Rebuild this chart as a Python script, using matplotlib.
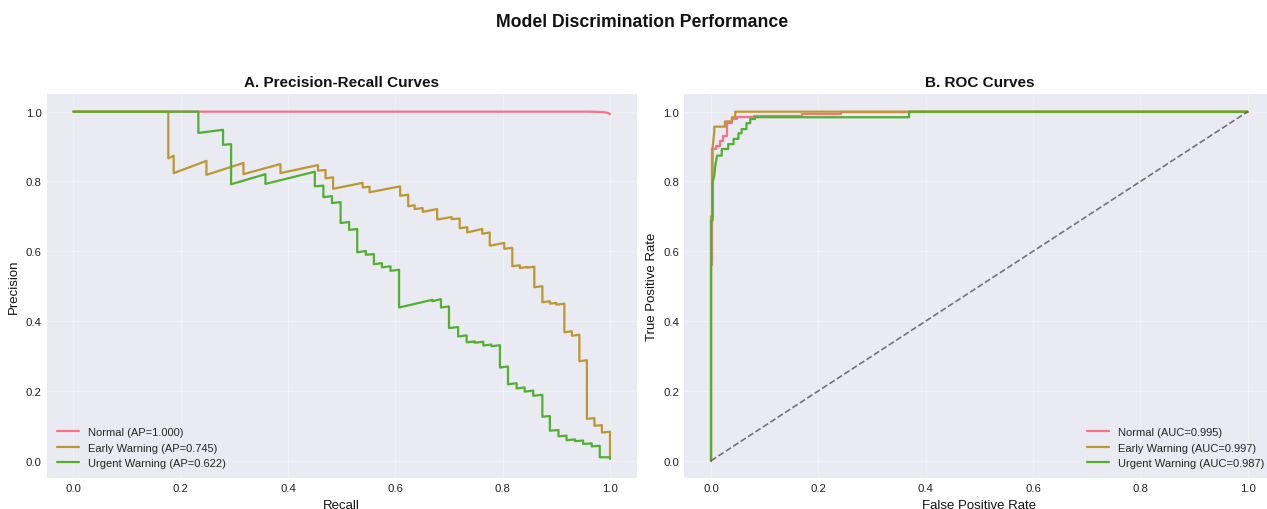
import matplotlib
matplotlib.use("Agg")
import matplotlib.pyplot as plt

plt.style.use("seaborn-v0_8-darkgrid")
plt.rcParams["font.family"] = ["Liberation Sans", "DejaVu Sans"]

# ---------------- data ----------------
class_names = ["Normal", "Early Warning", "Urgent Warning"]
ap_scores = [1.000, 0.745, 0.622]
auc_scores = [0.995, 0.997, 0.987]
colors = ["#f77189", "#bb9832", "#50b131"]

# Precision-Recall curves
normal_recall = [0.0, 0.96, 0.985, 0.995, 1.0]
normal_precision = [1.0, 1.0, 0.999, 0.997, 0.993]

early_recall = [0.0, 0.177, 0.177, 0.187, 0.187, 0.248, 0.248, 0.317, 0.317, 0.386, 0.386,
                0.456, 0.456, 0.470, 0.470, 0.484, 0.484, 0.539, 0.539, 0.552, 0.552,
                0.609, 0.609, 0.624, 0.624, 0.636, 0.636, 0.651, 0.651, 0.678, 0.678,
                0.705, 0.705, 0.720, 0.720, 0.734, 0.734, 0.762, 0.762, 0.776, 0.776,
                0.803, 0.803, 0.818, 0.818, 0.832, 0.832, 0.846, 0.846, 0.859, 0.859,
                0.874, 0.874, 0.888, 0.888, 0.900, 0.900, 0.915, 0.915, 0.929, 0.929,
                0.943, 0.943, 0.957, 0.957, 0.971, 0.971, 0.985, 0.985, 1.0, 1.0]
early_precision = [1.0, 1.0, 0.866, 0.874, 0.824, 0.859, 0.819, 0.853, 0.821, 0.850, 0.824,
                   0.847, 0.831, 0.833, 0.809, 0.812, 0.779, 0.796, 0.783, 0.785, 0.769,
                   0.786, 0.759, 0.762, 0.729, 0.732, 0.721, 0.724, 0.713, 0.721, 0.691,
                   0.698, 0.692, 0.694, 0.666, 0.669, 0.654, 0.664, 0.650, 0.654, 0.616,
                   0.624, 0.607, 0.610, 0.557, 0.560, 0.552, 0.555, 0.553, 0.556, 0.497,
                   0.500, 0.454, 0.457, 0.450, 0.452, 0.447, 0.450, 0.368, 0.371, 0.358,
                   0.361, 0.285, 0.288, 0.120, 0.122, 0.100, 0.102, 0.081, 0.083, 0.005]

urgent_recall = [0.0, 0.233, 0.233, 0.279, 0.279, 0.294, 0.294, 0.358, 0.358, 0.450, 0.450,
                 0.466, 0.466, 0.482, 0.482, 0.498, 0.498, 0.514, 0.514, 0.529, 0.529,
                 0.545, 0.545, 0.560, 0.560, 0.575, 0.575, 0.591, 0.591, 0.607, 0.607,
                 0.669, 0.669, 0.685, 0.685, 0.700, 0.700, 0.717, 0.717, 0.733, 0.733,
                 0.748, 0.748, 0.764, 0.764, 0.779, 0.779, 0.795, 0.795, 0.810, 0.810,
                 0.826, 0.826, 0.841, 0.841, 0.857, 0.857, 0.874, 0.874, 0.888, 0.888,
                 0.904, 0.904, 0.919, 0.919, 0.935, 0.935, 0.950, 0.950, 0.966, 0.966,
                 0.981, 0.981, 1.0, 1.0]
urgent_precision = [1.0, 1.0, 0.939, 0.948, 0.905, 0.907, 0.792, 0.821, 0.793, 0.828, 0.786,
                    0.788, 0.755, 0.758, 0.738, 0.741, 0.681, 0.684, 0.661, 0.664, 0.597,
                    0.601, 0.590, 0.592, 0.563, 0.566, 0.554, 0.557, 0.544, 0.547, 0.439,
                    0.461, 0.457, 0.463, 0.439, 0.442, 0.380, 0.383, 0.356, 0.359, 0.339,
                    0.342, 0.338, 0.341, 0.330, 0.333, 0.328, 0.331, 0.267, 0.270, 0.219,
                    0.222, 0.207, 0.210, 0.198, 0.201, 0.186, 0.189, 0.126, 0.128, 0.086,
                    0.088, 0.070, 0.072, 0.059, 0.061, 0.056, 0.058, 0.048, 0.050, 0.041,
                    0.043, 0.010, 0.010, 0.007]

# ROC curves
normal_fpr = [0.0, 0.0, 0.002, 0.002, 0.009, 0.009, 0.017, 0.017, 0.023, 0.023, 0.029, 0.029,
              0.039, 0.039, 0.048, 0.048, 0.080, 0.080, 0.170, 0.170, 0.243, 0.243, 1.0]
normal_tpr = [0.0, 0.56, 0.56, 0.893, 0.893, 0.903, 0.903, 0.917, 0.917, 0.931, 0.931, 0.967,
              0.967, 0.979, 0.979, 0.984, 0.984, 0.988, 0.988, 0.994, 0.994, 1.0, 1.0]

early_fpr = [0.0, 0.0, 0.003, 0.003, 0.006, 0.006, 0.026, 0.026, 0.039, 0.039, 0.045, 0.045, 1.0]
early_tpr = [0.0, 0.70, 0.70, 0.898, 0.941, 0.957, 0.957, 0.972, 0.972, 0.984, 0.984, 1.0, 1.0]

urgent_fpr = [0.0, 0.0, 0.003, 0.003, 0.006, 0.008, 0.011, 0.020, 0.020, 0.032, 0.032, 0.042,
              0.042, 0.051, 0.051, 0.057, 0.057, 0.066, 0.066, 0.073, 0.073, 0.082, 0.082,
              0.369, 0.369, 1.0]
urgent_tpr = [0.0, 0.688, 0.688, 0.798, 0.817, 0.845, 0.874, 0.874, 0.893, 0.893, 0.907, 0.907,
              0.922, 0.922, 0.938, 0.938, 0.950, 0.950, 0.967, 0.967, 0.979, 0.979, 0.984,
              0.984, 1.0, 1.0]

pr_x = [normal_recall, early_recall, urgent_recall]
pr_y = [normal_precision, early_precision, urgent_precision]
roc_x = [normal_fpr, early_fpr, urgent_fpr]
roc_y = [normal_tpr, early_tpr, urgent_tpr]

# ---------------- figure ----------------
W, H = 1267, 510
fig = plt.figure(figsize=(W / 100, H / 100), dpi=100)

ax_l, ax_r_left, ax_w = 46.5, 684.2, 590.3
ax_top, ax_bot = 95.2, 479.2
ax1 = fig.add_axes([ax_l / W, 1 - ax_bot / H, ax_w / W, (ax_bot - ax_top) / H])
ax2 = fig.add_axes([ax_r_left / W, 1 - ax_bot / H, ax_w / W, (ax_bot - ax_top) / H])

for i in range(3):
    ax1.plot(pr_x[i], pr_y[i], color=colors[i], lw=1.6,
             label=f"{class_names[i]} (AP={ap_scores[i]:.3f})")
for i in range(3):
    ax2.plot(roc_x[i], roc_y[i], color=colors[i], lw=1.6,
             label=f"{class_names[i]} (AUC={auc_scores[i]:.3f})")
ax2.plot([0, 1], [0, 1], linestyle="--", color="#555555", alpha=0.8, lw=1.2)

for ax in (ax1, ax2):
    ax.set_xlim(-0.05, 1.05)
    ax.set_ylim(-0.05, 1.05)
    ax.tick_params(labelsize=8.2, labelcolor="#222222")
    ax.grid(True, alpha=0.3)

ax1.set_xlabel("Recall", fontsize=9.5, color="#111111")
ax1.set_ylabel("Precision", fontsize=9.5, color="#111111")
ax1.set_title("A. Precision-Recall Curves", fontsize=11, fontweight="bold", color="#111111")
ax1.legend(loc="lower left", fontsize=8)

ax2.set_xlabel("False Positive Rate", fontsize=9.5, color="#111111")
ax2.set_ylabel("True Positive Rate", fontsize=9.5, color="#111111")
ax2.set_title("B. ROC Curves", fontsize=11, fontweight="bold", color="#111111")
ax2.legend(loc="lower right", fontsize=8)

fig.text(642 / W, 1 - 26.7 / H, "Model Discrimination Performance", ha="center",
         va="baseline", fontsize=12.7, fontweight="bold", color="#111111")

fig.savefig("out.png", dpi=100)
